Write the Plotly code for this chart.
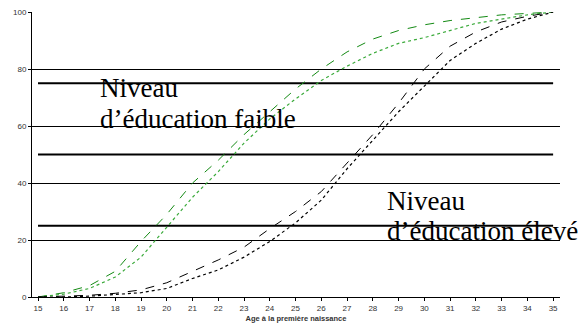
import plotly.graph_objects as go

# age at first birth
ages = list(range(15, 36))

# cumulative percentages, low education (green)
faible_a = [0, 1.5, 4, 9, 19.5, 29, 40, 48, 57, 65, 73, 80, 86, 90.5, 93.5, 95.5, 97, 98, 99, 99.5, 100]
faible_b = [0, 1, 3, 7, 14, 24.5, 35, 44, 54, 62.5, 69.5, 76, 81, 85.5, 89, 91, 93.5, 96, 97.5, 99, 100]
# cumulative percentages, high education (black)
eleve_a = [0, 0.3, 0.6, 1.3, 2.5, 5, 9, 13, 17.5, 24, 30, 37, 47, 57, 68, 80, 88, 93, 96.5, 98.5, 100]
eleve_b = [0, 0, 0.3, 0.8, 1.5, 3, 6.5, 9.5, 14, 19.5, 26, 34, 45, 55, 65, 74, 83, 89, 94, 97.5, 100]

# quartile reference lines
quartiles = [25, 50, 75]

# label lines (two lines each)
label_faible = ['Niveau', 'd\u2019éducation faible']
label_eleve = ['Niveau', 'd\u2019éducation élevé']

fig = go.Figure()

for q in quartiles:
    fig.add_trace(go.Scatter(x=[ages[0], ages[-1]], y=[q, q], mode='lines',
                             line=dict(color='black', width=1.8), showlegend=False))

fig.add_trace(go.Scatter(x=ages, y=faible_a, mode='lines',
                         line=dict(color='#138a13', width=1, dash='dash'), showlegend=False))
fig.add_trace(go.Scatter(x=ages, y=faible_b, mode='lines',
                         line=dict(color='#3aaa3a', width=1.2, dash='dot'), showlegend=False))
fig.add_trace(go.Scatter(x=ages, y=eleve_a, mode='lines',
                         line=dict(color='black', width=1, dash='dash'), showlegend=False))
fig.add_trace(go.Scatter(x=ages, y=eleve_b, mode='lines',
                         line=dict(color='black', width=1.2, dash='dot'), showlegend=False))

serif = dict(family='"Liberation Serif", "DejaVu Serif", serif', size=27, color='black')
for txt, yv in zip(label_faible, [73.3, 62.5]):
    fig.add_annotation(x=17.33, y=yv, xref='x', yref='y', xanchor='left', yanchor='middle',
                       text=txt, showarrow=False, font=serif)
for txt, yv in zip(label_eleve, [33.7, 23.2]):
    fig.add_annotation(x=28.48, y=yv, xref='x', yref='y', xanchor='left', yanchor='middle',
                       text=txt, showarrow=False, font=serif)

fig.update_layout(
    width=582, height=333,
    margin=dict(l=32, r=22, t=12, b=36),
    plot_bgcolor='white', paper_bgcolor='white',
    font=dict(family='"Liberation Sans", Arial, sans-serif', size=8, color='#333333'),
)
fig.update_xaxes(range=[14.767, 35.267], tickvals=ages, ticks='outside', ticklen=3,
                 tickcolor='black', showline=True, linecolor='black', linewidth=1,
                 showgrid=False, zeroline=False, automargin=False,
                 title=dict(text='<b>Age à la première naissance</b>', standoff=4,
                            font=dict(size=7.5, color='#333333')))
fig.update_yaxes(range=[0, 100], tickvals=[0, 20, 40, 60, 80, 100], ticks='outside', ticklen=3,
                 tickcolor='black', showline=True, linecolor='black', linewidth=1,
                 showgrid=True, gridcolor='black', gridwidth=1, zeroline=False,
                 automargin=False)

# page body has a default 8px margin; remove it so the figure sits at the origin
fig.write_html("out.html", config={'displayModeBar': False},
               post_script="document.body.style.margin='0';")
